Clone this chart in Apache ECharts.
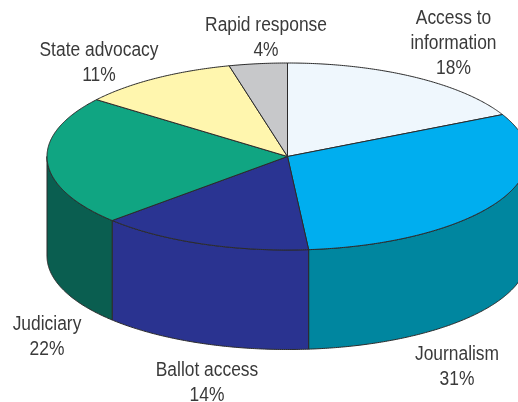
<!DOCTYPE html>
<html><head><meta charset="utf-8">
<style>html,body{margin:0;padding:0;background:#fff}#c{width:518px;height:402px}</style>
<script src="https://cdn.jsdelivr.net/npm/echarts@6/dist/echarts.min.js"></script>
</head><body><div id="c"></div>
<script>
const categories = ["Access to\ninformation", "Journalism", "Ballot access", "Judiciary", "State advocacy", "Rapid response"];
const shares = [17.6, 31, 14.4, 22.4, 10.7, 3.9];
const topColors = ["#eff7fd", "#00aeef", "#2a3492", "#10a582", "#fff6ae", "#c7c8ca"];
const wallColors = ["#c9d3da", "#00869f", "#2a3390", "#0a5e50", "#c9c08a", "#9a9b9d"];
const labelAnchors = [[453.5, 43.5], [457, 367], [207, 382.5], [47, 337], [99, 63], [266, 37.5]];

const layout = {cx: 287.5, cy: 156.5, rx: 240.5, ry: 93.5, depth: 99.5};
const total = shares.reduce((a, b) => a + b, 0);
const startAngles = [];
shares.reduce((acc, v, i) => { startAngles[i] = acc; return acc + v; }, 0);
const toDeg = v => v / total * 360;
const pt = (deg, dy) => {
  const t = deg * Math.PI / 180;
  return [layout.cx + layout.rx * Math.sin(t), layout.cy - layout.ry * Math.cos(t) + (dy || 0)];
};
const arc = (a, b, dy) => {
  const out = [], n = Math.max(2, Math.ceil((b - a) * 2));
  for (let i = 0; i <= n; i++) out.push(pt(a + (b - a) * i / n, dy));
  return out;
};
const edge = {stroke: "#2b2b2b", lineWidth: 1, lineJoin: "round"};

function wallItem(params, api) {
  const i = params.dataIndex;
  const a = Math.max(toDeg(startAngles[i]), 90);
  const b = Math.min(toDeg(startAngles[i] + api.value(0)), 270);
  if (b <= a) return {type: "group", children: []};
  const pts = arc(a, b, 0).concat(arc(a, b, layout.depth).reverse());
  return {type: "polygon", shape: {points: pts}, style: Object.assign({fill: wallColors[i]}, edge)};
}
function topItem(params, api) {
  const i = params.dataIndex;
  const a = toDeg(startAngles[i]);
  const b = toDeg(startAngles[i] + api.value(0));
  const pts = [[layout.cx, layout.cy]].concat(arc(a, b, 0));
  return {type: "polygon", shape: {points: pts}, style: Object.assign({fill: topColors[i]}, edge)};
}
function labelItem(params, api) {
  const i = params.dataIndex;
  return {type: "text", x: labelAnchors[i][0], y: labelAnchors[i][1], scaleX: 0.87, style: {
    text: categories[i] + "\n" + Math.round(api.value(0)) + "%",
    fill: "#3a3a3a", font: "20px 'Liberation Sans',Arial,sans-serif",
    lineHeight: 25, align: "center", verticalAlign: "middle"
  }};
}
const data = shares.map(v => [v]);
const chart = echarts.init(document.getElementById("c"), null, {renderer: "canvas"});
chart.setOption({
  animation: false,
  backgroundColor: "#fff",
  tooltip: {show: false},
  series: [
    {type: "custom", coordinateSystem: "none", renderItem: wallItem, data, z: 1, silent: true},
    {type: "custom", coordinateSystem: "none", renderItem: topItem, data, z: 2, silent: true},
    {type: "custom", coordinateSystem: "none", renderItem: labelItem, data, z: 3, silent: true}
  ]
});
</script></body></html>
